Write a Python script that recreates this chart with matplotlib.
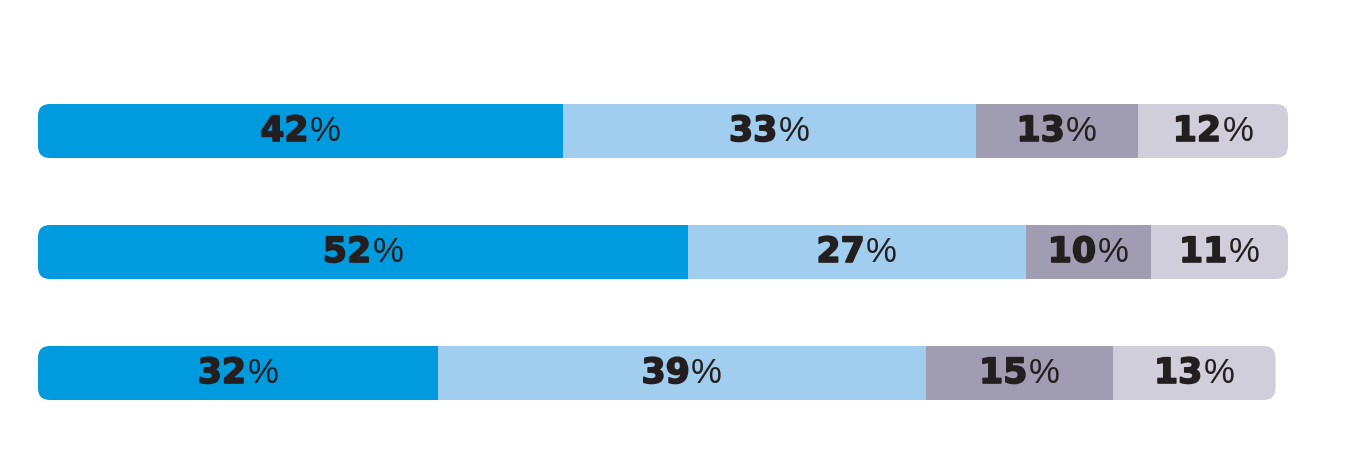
import matplotlib
matplotlib.use('Agg')
import matplotlib.pyplot as plt
import matplotlib.patheffects as pe
from matplotlib.patches import FancyBboxPatch
from matplotlib.offsetbox import TextArea, HPacker, AnnotationBbox

rows = ['Row 1', 'Row 2', 'Row 3']
seg1 = [42, 52, 32]
seg2 = [33, 27, 39]
seg3 = [13, 10, 15]
seg4 = [12, 11, 13]

colors = ['#009bde', '#a1cdee', '#a09cb1', '#d0cedb']
text_color = '#231f20'

W, H, DPI = 1351, 453, 100
fig = plt.figure(figsize=(W / DPI, H / DPI), dpi=DPI)
fig.patch.set_facecolor('white')

left_px, width_px = 38, 1250
row_px = 121
ax = fig.add_axes([left_px / W, 0, width_px / W, 1])
ax.set_xlim(0, 100)
y_bottom = 1 + 201 / row_px
ax.set_ylim(y_bottom, y_bottom - H / row_px)
ax.axis('off')

bar_h = 54 / row_px
radius_px = 12
x_per_px = 100 / width_px
y_per_px = 1 / row_px

series = [seg1, seg2, seg3, seg4]
for i, name in enumerate(rows):
    vals = [s[i] for s in series]
    total = sum(vals)
    # rounded outline used to clip the stacked segments
    clip = FancyBboxPatch((0, i - bar_h / 2), total, bar_h,
                          boxstyle=f'round,pad=0,rounding_size={radius_px * x_per_px}',
                          mutation_aspect=y_per_px / x_per_px,
                          transform=ax.transData, facecolor='none', edgecolor='none')
    ax.add_patch(clip)
    start = 0
    for v, c in zip(vals, colors):
        bars = ax.barh(i, v, left=start, height=bar_h, color=c, linewidth=0)
        for b in bars:
            b.set_clip_path(clip)
        num = TextArea(str(v), textprops=dict(
            fontsize=25, fontweight='bold', family='DejaVu Sans', color=text_color,
            path_effects=[pe.withStroke(linewidth=1.2, foreground=text_color)]))
        pct = TextArea('%', textprops=dict(fontsize=25, family='Liberation Sans',
                                           color=text_color))
        pack = HPacker(children=[num, pct], pad=0, sep=1, align='baseline')
        ab = AnnotationBbox(pack, (start + v / 2, i), frameon=False,
                            box_alignment=(0.5, 0.5), pad=0)
        ax.add_artist(ab)
        start += v

fig.savefig('out.png', dpi=DPI, facecolor='white')
